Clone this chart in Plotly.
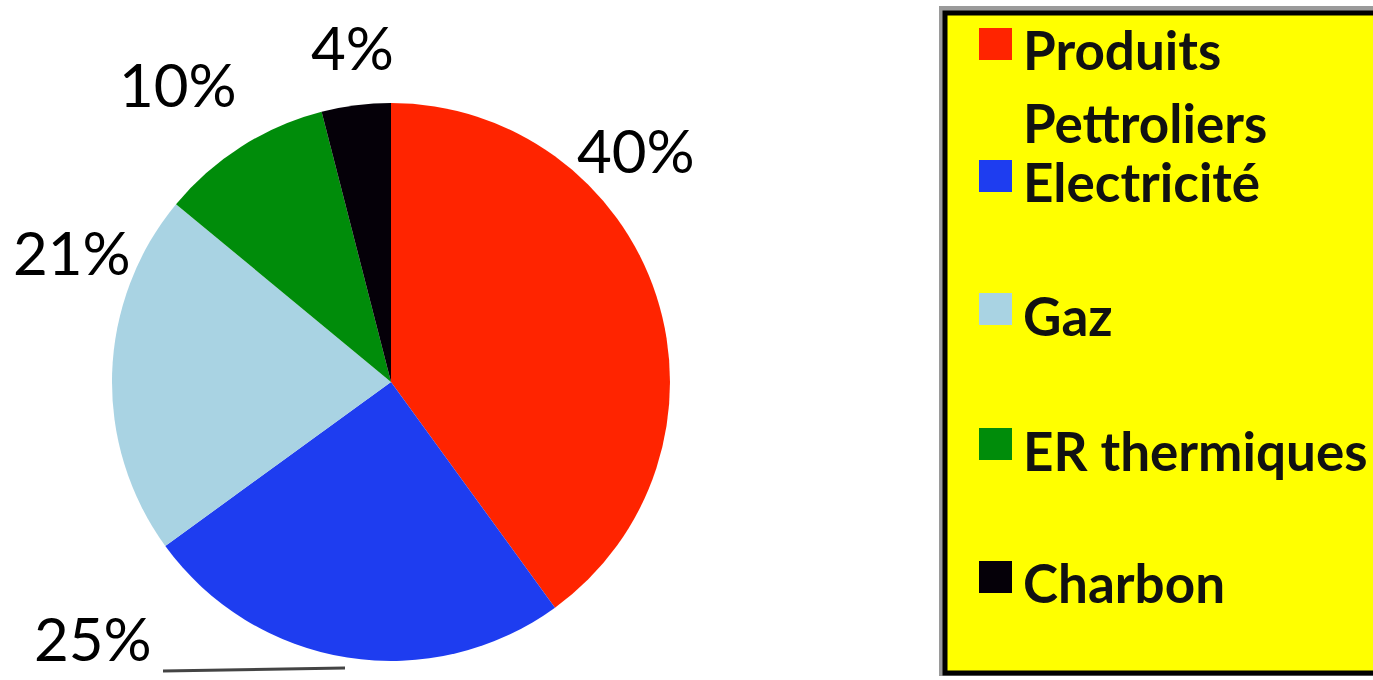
import plotly.graph_objects as go

W, H = 1373, 680

labels = ["Produits Pettroliers", "Electricité", "Gaz", "ER thermiques", "Charbon"]
values = [40, 25, 21, 10, 4]
colors = ["#FF2400", "#1E3DF0", "#A9D3E3", "#008C0A", "#050008"]

# layout positions (pixels) for outside percentage labels
pct_pos = [(636, 150), (93, 638), (72, 252), (178, 84), (352, 47)]
# legend layout (pixels)
legend_marker_y = [44, 176, 309, 444, 577]
legend_text_lines = [[("Produits", 50), ("Pettroliers", 122)], [("Electricité", 182)],
                     [("Gaz", 315)], [("ER thermiques", 450)], [("Charbon", 582)]]

def px(x):
    return x / W

def py(y):
    return 1 - y / H

cx, cy, r = 391, 382, 279

fig = go.Figure(go.Pie(
    labels=labels, values=values, sort=False, direction="clockwise", rotation=0,
    marker=dict(colors=colors, line=dict(width=0)), textinfo="none",
    domain=dict(x=[px(cx - r), px(cx + r)], y=[py(cy + r), py(cy - r)]),
    showlegend=False, hoverinfo="label+percent",
))

shapes = []
annotations = []

# percentage labels
total = sum(values)
for v, (x, y) in zip(values, pct_pos):
    annotations.append(dict(x=px(x), y=py(y), xref="paper", yref="paper",
                            text=f"{round(100 * v / total)}%", showarrow=False,
                            xanchor="center", yanchor="middle", borderpad=0,
                            font=dict(family="Lato", size=60, color="#000000")))

# leader line for the 25% label
shapes.append(dict(type="line", xref="paper", yref="paper",
                   x0=px(163), y0=py(671), x1=px(345), y1=py(668),
                   line=dict(color="#444444", width=3)))

# legend box
shapes.append(dict(type="rect", xref="paper", yref="paper",
                   x0=px(939), y0=py(6), x1=px(1385), y1=py(676),
                   fillcolor="#9A9A9A", line=dict(width=0), layer="above"))
shapes.append(dict(type="rect", xref="paper", yref="paper",
                   x0=px(945), y0=py(13), x1=px(1390), y1=py(673),
                   fillcolor="#FFFF00", line=dict(color="#000000", width=5), layer="above"))

for i, (lab, col) in enumerate(zip(labels, colors)):
    ym = legend_marker_y[i]
    shapes.append(dict(type="rect", xref="paper", yref="paper",
                       x0=px(979), y0=py(ym - 16), x1=px(1012), y1=py(ym + 16),
                       fillcolor=col, line=dict(width=0), layer="above"))
    for txt, ty in legend_text_lines[i]:
        annotations.append(dict(x=px(1021), y=py(ty), xref="paper", yref="paper",
                                text=f"<b>{txt}</b>", showarrow=False,
                                xanchor="left", yanchor="middle",
                                font=dict(family="Lato", size=53, color="#111111")))

fig.update_layout(
    width=W, height=H, margin=dict(l=0, r=0, t=0, b=0),
    paper_bgcolor="#FFFFFF", plot_bgcolor="#FFFFFF",
    shapes=shapes, annotations=annotations,
)

fig.write_html("out.html")
